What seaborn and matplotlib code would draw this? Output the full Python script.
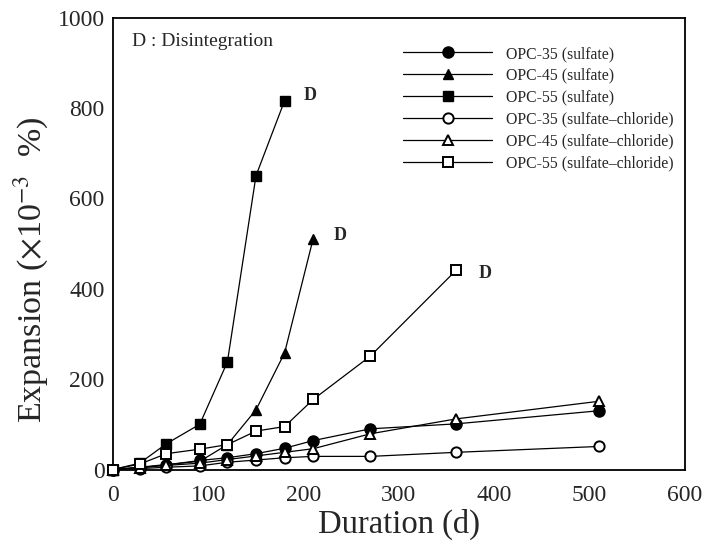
import matplotlib
matplotlib.use("Agg")
import matplotlib.pyplot as plt
import seaborn as sns
import pandas as pd
from matplotlib.ticker import MultipleLocator

# ---- data ----
days_all = [0, 28, 56, 91, 120, 150, 180, 210, 270, 360, 510]

opc35_sulfate = [0, 4, 10, 20, 26, 35, 47, 64, 90, 101, 130]
opc45_sulfate = [0, 5, 11, 18, 55, 132, 258, 511]
opc55_sulfate = [0, 14, 57, 100, 238, 650, 816]
opc35_sc = [0, 2, 5, 8, 16, 21, 26, 29, 29, 38, 51]
opc45_sc = [0, 4, 9, 14, 22, 30, 38, 46, 79, 112, 151]
opc55_sc = [0, 12, 35, 45, 55, 85, 95, 155, 251, 441]

series_names = ["OPC-35 (sulfate)", "OPC-45 (sulfate)", "OPC-55 (sulfate)",
                "OPC-35 (sulfate\u2013chloride)", "OPC-45 (sulfate\u2013chloride)",
                "OPC-55 (sulfate\u2013chloride)"]
series_values = [opc35_sulfate, opc45_sulfate, opc55_sulfate, opc35_sc, opc45_sc, opc55_sc]
series_markers = ["o", "^", "s", "o", "^", "s"]
series_filled = [True, True, True, False, False, False]

d_labels = ["D", "D", "D"]
d_x = [207, 238, 390]
d_y = [828, 518, 433]

x_ticks = [0, 100, 200, 300, 400, 500, 600]
y_ticks = [0, 200, 400, 600, 800, 1000]

# ---- style ----
sns.set_style("white")
plt.rcParams["font.family"] = ["Liberation Serif", "DejaVu Serif"]
plt.rcParams["mathtext.fontset"] = "stix"

fig = plt.figure(figsize=(7.04, 5.41), dpi=100)
ax = fig.add_axes([113 / 704, 1 - 469.5 / 541, 572 / 704, 452 / 541])

rows = []
for name, vals in zip(series_names, series_values):
    for d, v in zip(days_all[:len(vals)], vals):
        rows.append({"series": name, "day": d, "exp": v})
df = pd.DataFrame(rows)

msizes = {"o": 8.0, "^": 7.6, "s": 7.6}
for name, mk, filled in zip(series_names, series_markers, series_filled):
    sub = df[df["series"] == name]
    sns.lineplot(data=sub, x="day", y="exp", ax=ax, color="black", lw=0.9,
                 marker=mk, markersize=msizes[mk] if filled else msizes[mk] - 0.6,
                 markerfacecolor="black" if filled else "white",
                 markeredgecolor="black", markeredgewidth=1.0 if filled else 1.4,
                 label=name, clip_on=False, zorder=3)

for t, x, y in zip(d_labels, d_x, d_y):
    ax.text(x, y, t, fontsize=13, fontweight="bold", ha="center", va="center")

ax.text(20, 946, "D : Disintegration", fontsize=14, ha="left", va="center")

ax.set_xlim(0, 600)
ax.set_ylim(0, 1000)
ax.set_xticks(x_ticks)
ax.set_yticks(y_ticks)
ax.xaxis.set_minor_locator(MultipleLocator(50))
ax.yaxis.set_minor_locator(MultipleLocator(100))
ax.tick_params(axis="both", which="both", direction="in", top=False, right=False,
               labelsize=17, width=1.0, color="black")
ax.tick_params(which="major", length=6)
ax.tick_params(axis="x", which="major", pad=11)
ax.tick_params(axis="y", which="major", pad=6)
ax.tick_params(which="minor", length=5)
for s in ax.spines.values():
    s.set_linewidth(1.3)
    s.set_color("black")

ax.set_xlabel("Duration (d)", fontsize=23.5, labelpad=2)
ax.set_ylabel(r"Expansion (${\times}$10$^{-3}$  %)", fontsize=24.5)
ax.yaxis.set_label_coords(-0.110, 0.443)

leg = ax.legend(loc="upper left", bbox_to_anchor=(0.507, 0.937), frameon=False,
                fontsize=11.3, handlelength=5.7, handletextpad=0.85,
                labelspacing=0.37, borderpad=0, borderaxespad=0)

fig.savefig("out.png", dpi=100)
